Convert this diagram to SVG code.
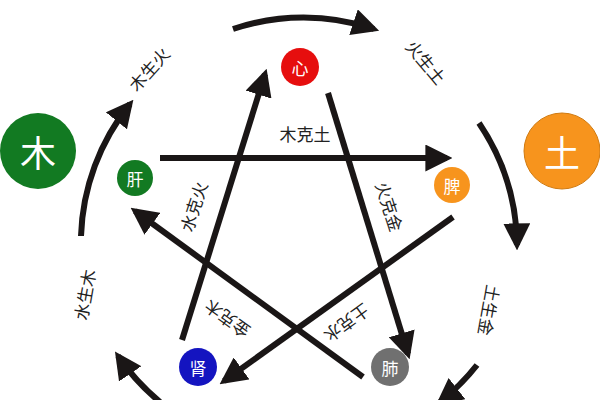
<svg xmlns="http://www.w3.org/2000/svg" width="600" height="400" viewBox="0 0 600 400">
<style>
.c{stroke:none}
.ln{fill:none;stroke:#1a1616;stroke-width:6}
.lbl{font-family:"Liberation Serif","Noto Sans CJK SC",serif;font-size:17px;fill:#222;text-anchor:middle;dominant-baseline:central}
.nt{font-family:"Noto Sans CJK SC",sans-serif;fill:#fff;text-anchor:middle;dominant-baseline:central}
</style>
<defs>
<marker id="ah" viewBox="0 0 10 10" refX="8" refY="5" markerWidth="4.5" markerHeight="4.5" orient="auto" markerUnits="strokeWidth">
<path d="M0,0 L10,5 L0,10 z" fill="#1a1616"/>
</marker>
</defs>
<rect width="600" height="400" fill="#fff"/>
<g id="connectors">
<path class="ln" marker-end="url(#ah)" d="M233,29 A222,222 0 0 1 374,29"/>
<path class="ln" marker-end="url(#ah)" d="M479,123 A222,222 0 0 1 517,245"/>
<path class="ln" marker-end="url(#ah)" d="M477,365 A222,222 0 0 1 440,402"/>
<path class="ln" marker-end="url(#ah)" d="M81,236 A222,222 0 0 1 130,104"/>
<path class="ln" marker-end="url(#ah)" d="M160,402 A222,222 0 0 1 118,356"/>
<path class="ln" marker-end="url(#ah)" d="M160,158 L447,158"/>
<path class="ln" marker-end="url(#ah)" d="M182,340 L265,74"/>
<path class="ln" marker-end="url(#ah)" d="M328,93 L408,354"/>
<path class="ln" marker-end="url(#ah)" d="M453,217 L224,381"/>
<path class="ln" marker-end="url(#ah)" d="M363,377 L135,211"/>
</g>
<g id="labels">
<text class="lbl" transform="translate(150,70) rotate(-48)">木生火</text>
<text class="lbl" transform="translate(425,63) rotate(50)">火生土</text>
<text class="lbl" transform="translate(488,310) rotate(100)">土生金</text>
<text class="lbl" transform="translate(86,295) rotate(-80)">水生木</text>
<text class="lbl" transform="translate(305,135)">木克土</text>
<text class="lbl" transform="translate(195,207) rotate(-72)">水克火</text>
<text class="lbl" transform="translate(388,207) rotate(72)">火克金</text>
<text class="lbl" transform="translate(346,322) rotate(144)">土克水</text>
<text class="lbl" transform="translate(228,318) rotate(216)">金克木</text>
</g>
<g id="mu"><circle cx="38" cy="151" r="38" fill="#127a22"/><text class="nt" x="38" y="151" font-size="36">木</text></g>
<g id="tu"><circle cx="562" cy="151" r="38" fill="#f7941d" stroke="#d07a10"/><text class="nt" x="562" y="151" font-size="36">土</text></g>
<g id="xin"><circle cx="300" cy="67" r="19" fill="#e60e0e"/><text class="nt" x="300" y="67" font-size="17">心</text></g>
<g id="gan"><circle cx="135" cy="178" r="18" fill="#127a22"/><text class="nt" x="135" y="178" font-size="17">肝</text></g>
<g id="pi"><circle cx="452" cy="185" r="18" fill="#f7941d"/><text class="nt" x="452" y="185" font-size="17">脾</text></g>
<g id="shen"><circle cx="198" cy="367" r="19" fill="#1414c0"/><text class="nt" x="198" y="367" font-size="17">肾</text></g>
<g id="fei"><circle cx="390" cy="367" r="19" fill="#707070"/><text class="nt" x="390" y="367" font-size="17">肺</text></g>
</svg>
